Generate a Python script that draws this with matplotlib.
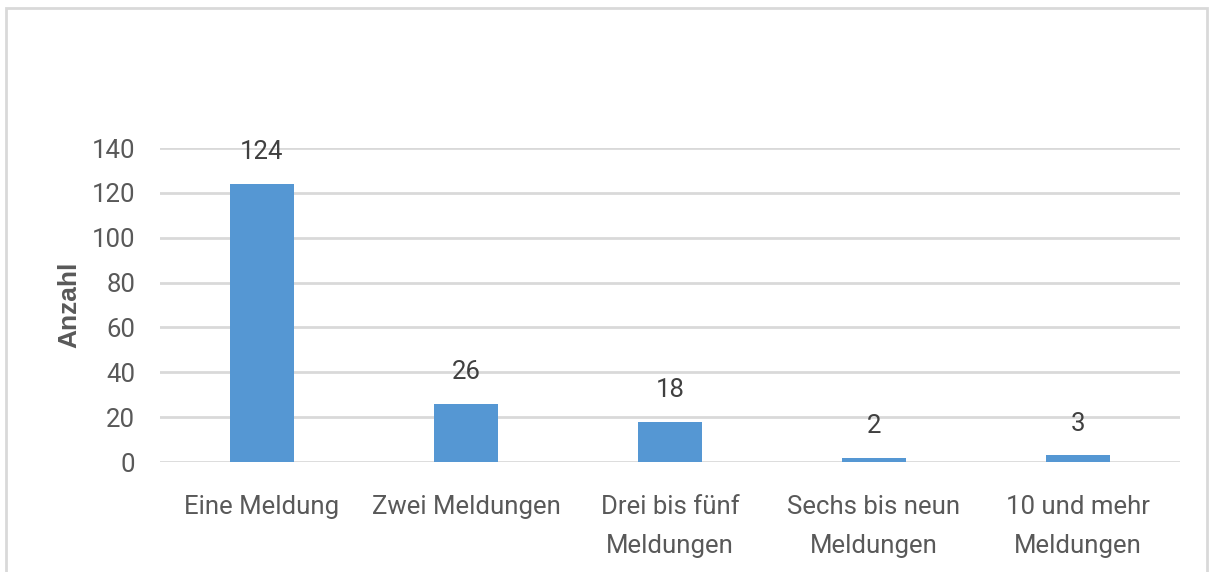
import matplotlib
matplotlib.use("Agg")
import matplotlib.pyplot as plt
from matplotlib.patches import Rectangle

# Daten
categories = ["Eine Meldung", "Zwei Meldungen", "Drei bis fünf\nMeldungen",
              "Sechs bis neun\nMeldungen", "10 und mehr\nMeldungen"]
counts = [124, 26, 18, 2, 3]
yticks = [0, 20, 40, 60, 80, 100, 120, 140]

plt.rcParams['font.family'] = ['Roboto', 'DejaVu Sans']
text_color = '#595959'
grid_color = '#D9D9D9'
bar_color = '#5597D3'

fig = plt.figure(figsize=(12.14, 5.72), dpi=100)
ax = fig.add_axes([160 / 1214, 1 - 462 / 572, 1020 / 1214, 314 / 572])

x = range(len(categories))
bars = ax.bar(x, counts, width=0.31, color=bar_color, zorder=3)

for xi, v in zip(x, counts):
    ax.annotate(str(v), (xi, v), xytext=(0, 14), textcoords='offset points',
                ha='center', va='bottom', fontsize=18.5, color='#404040')

ax.set_xlim(-0.5, len(categories) - 0.5)
ax.set_ylim(0, 140)
ax.set_yticks(yticks)
ax.set_xticks(list(x))
ax.set_xticklabels(categories, fontsize=18.5, color=text_color, linespacing=1.75)
ax.tick_params(axis='y', labelsize=18.5, labelcolor=text_color, length=0, pad=18)
ax.tick_params(axis='x', length=0, pad=24)
ax.grid(axis='y', color=grid_color, linewidth=2, zorder=0)
for s in ax.spines.values():
    s.set_visible(False)

ax.set_ylabel("Anzahl", fontsize=19, fontweight='bold', color=text_color,
              family=['Liberation Sans', 'DejaVu Sans'])
ax.yaxis.set_label_coords(-0.077, 0.5)

# Rahmen um das Diagramm
fig.patches.append(Rectangle((6 / 1214, -0.02), 1201 / 1214, 1.02 - 8 / 572,
                             transform=fig.transFigure, fill=False,
                             edgecolor=grid_color, linewidth=2))

fig.savefig("out.png", dpi=100)
